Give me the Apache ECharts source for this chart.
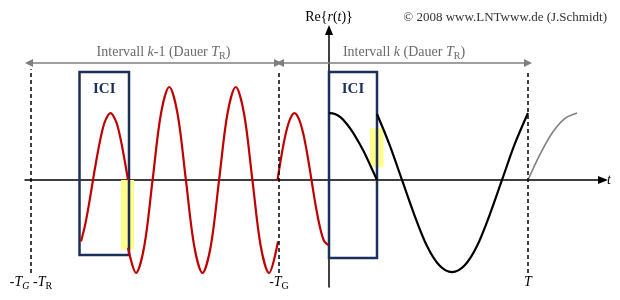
<!DOCTYPE html>
<html><head><meta charset="utf-8">
<script src="https://cdn.jsdelivr.net/npm/echarts@6/dist/echarts.min.js"></script>
<style>html,body{margin:0;padding:0;background:#fff}#c{width:620px;height:300px}</style>
</head><body><div id="c"></div>
<script>
// ---- data (t in units where T_G = 1, T = 4; amplitude 1 = full swing) ----
const redA_t = [-4.96,-4.88,-4.80,-4.72,-4.64,-4.56,-4.48,-4.37,-4.26,-4.18,-4.10,-4.02];
const redA_v = [-0.66,-0.49,-0.26,0,0.25,0.47,0.63,0.72,0.63,0.47,0.25,0];
const redB_t = [-4.02,-3.86,-3.694,-3.528,-3.362,-3.195,-3.028,-2.862,-2.696,-2.53,-2.364,-2.198,-2.032,-1.865,-1.698,-1.532,-1.366,-1.2,-1.02];
const redB_v = [-0.73,-1,-0.71,0,0.71,1,0.71,0,-0.71,-1,-0.71,0,0.71,1,0.71,0,-0.71,-1,-0.66];
const redC_t = [-1.03,-0.945,-0.86,-0.775,-0.69,-0.605,-0.52,-0.435,-0.35,-0.265,-0.18,-0.095,-0.01];
const redC_v = [0,0.28,0.51,0.66,0.72,0.66,0.51,0.28,0,-0.28,-0.51,-0.66,-0.7];
const blackD_t = [0,0.12,0.24,0.36,0.48,0.6,0.72,0.84,0.96];
const blackD_v = [0.72,0.71,0.67,0.6,0.51,0.4,0.28,0.14,0];
const blackE_t = [0.96,1.21,1.46,1.71,1.96,2.21,2.46,2.71,2.96,3.21,3.46,3.71,3.98];
const blackE_v = [0.71,0.38,0,-0.38,-0.71,-0.92,-0.99,-0.92,-0.71,-0.38,0,0.38,0.72];
const greyF_t = [3.98,4.225,4.47,4.715,4.96];
const greyF_v = [0,0.28,0.51,0.66,0.72];
// tick positions and labels
const tickPos = [-5.96, -1.0, 3.98];
const tickLabels = ['{n|-}{i|T}{si|G}{n| -}{i|T}{s|R}', '{n|-}{i|T}{s|G}', '{i|T}'];
const intervalLabels = ['{n|Intervall }{i|k}{n|-1 (Dauer }{i|T}{s|R}{n|)}', '{n|Intervall }{i|k}{n| (Dauer }{i|T}{s|R}{n|)}'];
const iciRanges = [[-4.99, -4.0], [0, 0.96]];

const zip = (a, b) => a.map((x, i) => [x, b[i]]);
const SERIF = 'Liberation Serif';
const navy = '#1b2f5c';

const richBase = (col) => ({
  n: {fontFamily: SERIF, fontSize: 14, color: col, verticalAlign: 'top', lineHeight: 15},
  i: {fontFamily: SERIF, fontSize: 14, color: col, fontStyle: 'italic', verticalAlign: 'top', lineHeight: 15},
  s: {fontFamily: SERIF, fontSize: 10, color: col, verticalAlign: 'top', padding: [6,0,0,0], lineHeight: 10},
  si: {fontFamily: SERIF, fontSize: 10, color: col, fontStyle: 'italic', verticalAlign: 'top', padding: [6,0,0,0], lineHeight: 10}
});

const curve = (t, v, color, w, z) => ({
  type: 'line', data: zip(t, v), smooth: 0.33, showSymbol: false, symbol: 'none',
  lineStyle: {color: color, width: w}, z: z, silent: true, animation: false
});

const chart = echarts.init(document.getElementById('c'), null, {renderer: 'canvas'});
chart.setOption({
  animation: false,
  title: {
    text: '© 2008 www.LNTwww.de (J.Schmidt)', right: 8, top: 6,
    textStyle: {fontFamily: SERIF, fontSize: 13, fontWeight: 'normal', color: '#333'}
  },
  grid: {left: 25, right: 17, top: 30, bottom: 13},
  xAxis: {
    type: 'value', min: -6.08, max: 5.48,
    axisLine: {onZero: true, lineStyle: {color: '#000', width: 1.5}, symbol: ['none', 'triangle'], symbolSize: [8, 10]},
    axisTick: {show: false}, axisLabel: {show: false}, splitLine: {show: false},
    name: 't', nameLocation: 'end', nameGap: 4,
    nameTextStyle: {fontFamily: SERIF, fontSize: 14, fontStyle: 'italic', color: '#000'}
  },
  yAxis: {
    type: 'value', min: -1.151, max: 1.613,
    axisLine: {onZero: true, lineStyle: {color: '#000', width: 1.5}, symbol: ['none', 'triangle'], symbolSize: [8, 10]},
    axisTick: {show: false}, axisLabel: {show: false}, splitLine: {show: false},
    name: 'Re{{i|r}({i|t})}', nameLocation: 'end', nameGap: 6,
    nameTextStyle: {fontFamily: SERIF, fontSize: 14, color: '#000',
      rich: {i: {fontFamily: SERIF, fontSize: 14, fontStyle: 'italic', color: '#000'}}}
  },
  series: [
    { // yellow highlights
      type: 'line', data: [], z: 1, silent: true,
      markArea: {silent: true, itemStyle: {color: '#ffff8a'},
        data: [[{coord: [-4.16, 0]}, {coord: [-3.9, -0.745]}], [{coord: [0.82, 0.556]}, {coord: [1.09, 0.137]}]]}
    },
    curve(redA_t, redA_v, '#c00000', 2.2, 3),
    curve(redB_t, redB_v, '#c00000', 2.2, 3),
    curve(redC_t, redC_v, '#c00000', 2.2, 3),
    curve(blackD_t, blackD_v, '#000', 2.2, 3),
    curve(blackE_t, blackE_v, '#000', 2.2, 3),
    curve(greyF_t, greyF_v, '#808080', 1.6, 3),
    { // ICI boxes
      type: 'line', data: [], z: 6, silent: true,
      markArea: {silent: true,
        itemStyle: {color: 'rgba(0,0,0,0)', borderColor: navy, borderWidth: 2.5},
        label: {show: true, position: 'insideTop', distance: 11, fontFamily: SERIF, fontSize: 15, fontWeight: 'bold', color: navy},
        data: [
          [{name: 'ICI', coord: [iciRanges[0][0], 1.161]}, {coord: [iciRanges[0][1], -0.806]}],
          [{name: 'ICI', coord: [iciRanges[1][0], 1.161]}, {coord: [iciRanges[1][1], -0.839]}]
        ]}
    },
    { // dashed vertical lines with tick labels
      type: 'line', data: [], z: 7, silent: true,
      markLine: {silent: true, symbol: ['none', 'none'],
        lineStyle: {color: '#000', width: 1.5, type: [4, 3]},
        label: {show: true, position: 'start', distance: 2, formatter: (p) => p.name, rich: richBase('#000')},
        data: [
          [{name: tickLabels[0], coord: [tickPos[0], -1.0]}, {coord: [tickPos[0], 1.19]}],
          [{name: tickLabels[1], coord: [tickPos[1], -1.0]}, {coord: [tickPos[1], 1.18]}],
          [{name: tickLabels[2], coord: [tickPos[2], -1.0]}, {coord: [tickPos[2], 1.16]}]
        ]}
    },
    { // interval arrows
      type: 'line', data: [], z: 7, silent: true,
      markLine: {silent: true, symbol: ['triangle', 'triangle'], symbolSize: [8, 8],
        lineStyle: {color: '#7f7f7f', width: 1.5, type: 'solid'},
        label: {show: true, position: 'insideMiddleTop', distance: 3, formatter: (p) => p.name, rich: richBase('#6a6a6a')},
        data: [
          [{name: intervalLabels[0], coord: [-6.0, 1.258], label: {offset: [10, 0]}}, {coord: [-1.02, 1.258]}],
          [{name: intervalLabels[1], coord: [-0.98, 1.258]}, {coord: [3.98, 1.258]}]
        ]}
    }
  ]
});
</script></body></html>
